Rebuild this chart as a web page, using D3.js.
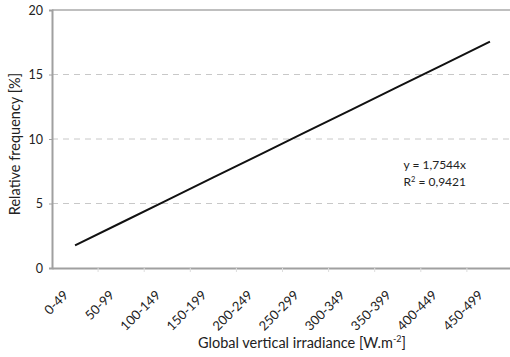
<!DOCTYPE html>
<html>
<head>
<meta charset="utf-8">
<script src="https://cdn.jsdelivr.net/npm/d3@7"></script>
<style>
  body { margin: 0; background: #fff; }
  text { font-family: Lato, "Open Sans", sans-serif; fill: #222; }
</style>
</head>
<body>
<div id="chart"></div>
<script>
const width = 510;
const height = 357;

const categories = ["0-49", "50-99", "100-149", "150-199", "200-249", "250-299",
  "300-349", "350-399", "400-449", "450-499"];
const values = [1.7544, 3.5088, 5.2632, 7.0176, 8.772, 10.5264, 12.2808, 14.0352, 15.7896, 17.544];
const yTicks = [0, 5, 10, 15, 20];

const margin = { left: 52, top: 10, right: -3, bottom: 89 };

const svg = d3.select("#chart")
  .append("svg")
  .attr("width", width)
  .attr("height", height);

const x = d3.scaleBand()
  .domain(categories)
  .range([margin.left, width - margin.right]);

const y = d3.scaleLinear()
  .domain([0, 20])
  .range([height - margin.bottom, margin.top]);

// gridlines
svg.append("g")
  .selectAll("line")
  .data(yTicks.filter(d => d > 0 && d < 20))
  .enter()
  .append("line")
  .attr("x1", margin.left)
  .attr("x2", width)
  .attr("y1", d => y(d))
  .attr("y2", d => y(d))
  .attr("stroke", "#c8c8c8")
  .attr("stroke-width", 1)
  .attr("stroke-dasharray", "6,5");

// top border
svg.append("line")
  .attr("x1", margin.left)
  .attr("x2", width)
  .attr("y1", y(20))
  .attr("y2", y(20))
  .attr("stroke", "#aaa")
  .attr("stroke-width", 1.5);

// y axis
const yAxis = svg.append("g")
  .attr("transform", `translate(${margin.left},0)`)
  .call(d3.axisLeft(y).tickValues(yTicks).tickSize(3).tickPadding(6));
yAxis.select(".domain").attr("stroke", "#a0a0a0").attr("stroke-width", 2);
yAxis.selectAll(".tick line").attr("stroke", "#a0a0a0");
yAxis.selectAll(".tick text").attr("font-size", 12.5).attr("fill", "#222");

// x axis
const xAxis = svg.append("g")
  .attr("transform", `translate(0,${y(0)})`)
  .call(d3.axisBottom(x).tickSize(0));
xAxis.select(".domain").attr("stroke", "#a0a0a0").attr("stroke-width", 2);
xAxis.selectAll(".tick text")
  .attr("font-size", 13)
  .attr("fill", "#222")
  .attr("text-anchor", "end")
  .attr("x", 0)
  .attr("y", 0)
  .attr("dy", 0)
  .attr("transform", "translate(-6,28) rotate(-45)");

// boundary ticks
svg.append("g")
  .selectAll("line")
  .data(categories.slice(1))
  .enter()
  .append("line")
  .attr("x1", d => x(d))
  .attr("x2", d => x(d))
  .attr("y1", y(0))
  .attr("y2", y(0) + 4)
  .attr("stroke", "#ddd");

// trend line
const line = d3.line()
  .x((d, i) => x(categories[i]) + x.bandwidth() / 2)
  .y(d => y(d));

svg.append("path")
  .datum(values)
  .attr("d", line)
  .attr("fill", "none")
  .attr("stroke", "#111")
  .attr("stroke-width", 2);

// equation
svg.append("text")
  .attr("x", 466)
  .attr("y", 169)
  .attr("text-anchor", "end")
  .attr("font-size", 12)
  .text("y = 1,7544x");

const r2 = svg.append("text")
  .attr("x", 466)
  .attr("y", 186)
  .attr("text-anchor", "end")
  .attr("font-size", 12);
r2.append("tspan").text("R");
r2.append("tspan").attr("font-size", 7.5).attr("dy", -4).text("2");
r2.append("tspan").attr("dy", 4).text(" = 0,9421");

// axis titles
const xt = svg.append("text")
  .attr("x", 302)
  .attr("y", 348)
  .attr("text-anchor", "middle")
  .attr("font-size", 14.5);
xt.append("tspan").text("Global vertical irradiance [W.m");
xt.append("tspan").attr("font-size", 9).attr("dy", -6).text("-2");
xt.append("tspan").attr("dy", 6).text("]");

svg.append("text")
  .attr("transform", "translate(20,144) rotate(-90)")
  .attr("text-anchor", "middle")
  .attr("font-size", 14.5)
  .text("Relative frequency [%]");
</script>
</body>
</html>
